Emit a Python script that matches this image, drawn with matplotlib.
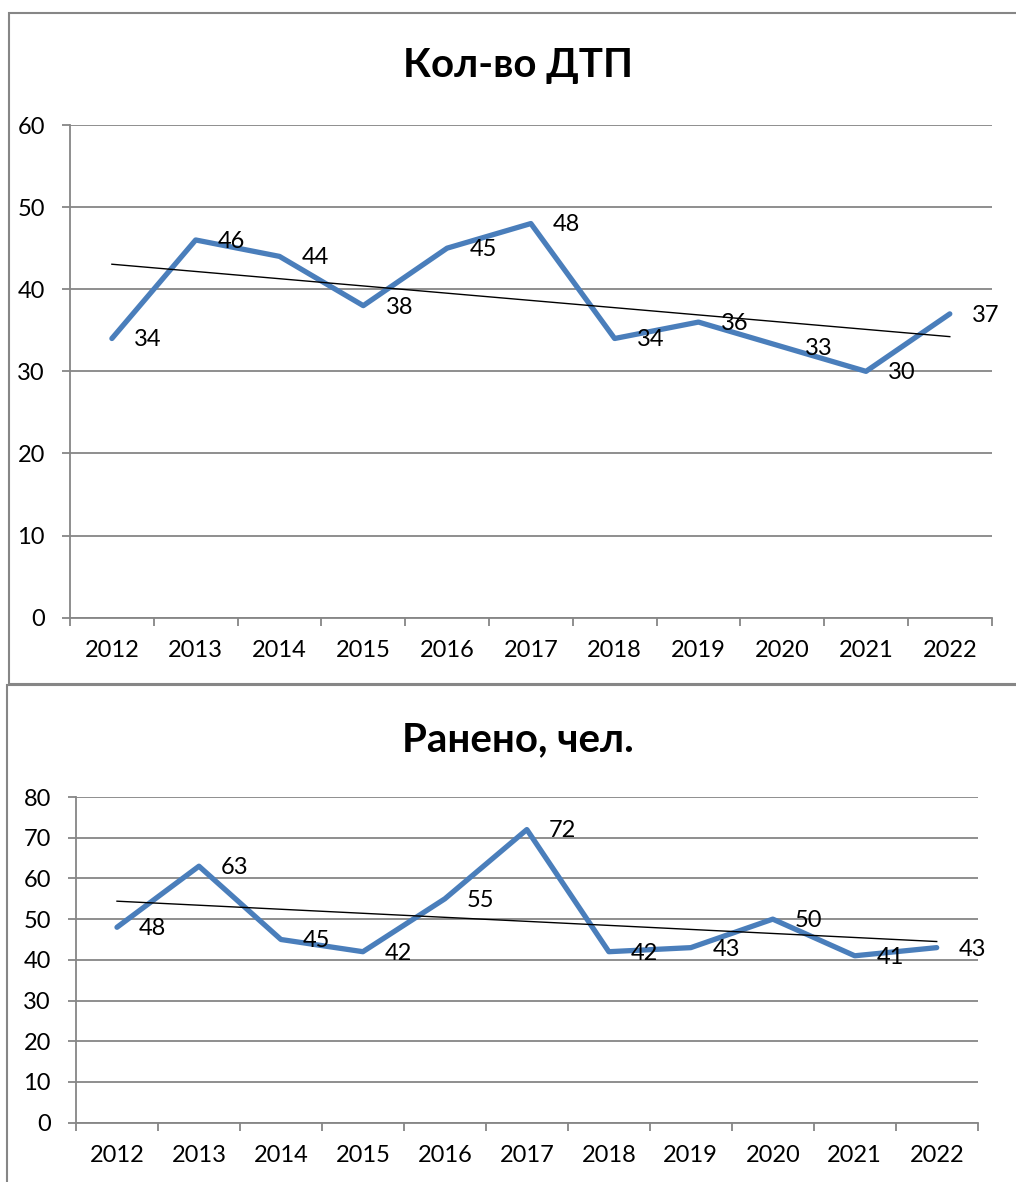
import matplotlib
matplotlib.use('Agg')
import matplotlib.pyplot as plt
from matplotlib.patches import Rectangle
from matplotlib.ticker import MultipleLocator, FixedLocator, NullFormatter
import numpy as np

plt.rcParams['font.family'] = ['Lato', 'DejaVu Sans']

years = ['2012', '2013', '2014', '2015', '2016', '2017', '2018', '2019', '2020', '2021', '2022']
dtp = [34, 46, 44, 38, 45, 48, 34, 36, 33, 30, 37]
injured = [48, 63, 45, 42, 55, 72, 42, 43, 50, 41, 43]

W, H = 1016, 1182
fig = plt.figure(figsize=(W / 100, H / 100), dpi=100)

GRAY = '#868686'
BLUE = '#4a7ebb'


def px_axes(left, top, right, bottom):
    return fig.add_axes([left / W, 1 - bottom / H, (right - left) / W, (bottom - top) / H])


def draw_chart(ax, values, ymax, title, title_y):
    n = len(values)
    x = np.arange(n)
    ax.set_xlim(-0.5, n - 0.5)
    ax.set_ylim(0, ymax)
    ax.yaxis.set_major_locator(MultipleLocator(10))
    ax.grid(axis='y', color=GRAY, linewidth=1.3)
    ax.set_axisbelow(True)
    for s in ['top', 'right']:
        ax.spines[s].set_visible(False)
    for s in ['left', 'bottom']:
        ax.spines[s].set_color(GRAY)
        ax.spines[s].set_linewidth(1.3)
    # ticks at category boundaries, labels at centres
    ax.xaxis.set_major_locator(FixedLocator(np.arange(n + 1) - 0.5))
    ax.xaxis.set_major_formatter(NullFormatter())
    ax.xaxis.set_minor_locator(FixedLocator(x))
    ax.set_xticklabels(years, minor=True)
    ax.tick_params(axis='x', which='major', length=6, width=1.3, color=GRAY)
    ax.tick_params(axis='x', which='minor', length=0, pad=16, labelsize=17)
    ax.tick_params(axis='y', length=6, width=1.3, color=GRAY, pad=12, labelsize=17)

    ax.plot(x, values, color=BLUE, linewidth=3.8, solid_capstyle='round',
            solid_joinstyle='round', zorder=3)
    # linear trend line
    k, b = np.polyfit(x, values, 1)
    ax.plot(x, k * x + b, color='black', linewidth=1.0, zorder=4)
    for xi, v in zip(x, values):
        ax.annotate(str(v), (xi, v), xytext=(16, -1), textcoords='offset points',
                    ha='left', va='center', fontsize=17, zorder=5)
    fig.text(518 / W, 1 - title_y / H, title, ha='center', va='center',
             fontsize=29, fontweight='bold')


ax1 = px_axes(70, 125, 991.7, 617.7)
draw_chart(ax1, dtp, 60, 'Кол-во ДТП', 65)

ax2 = px_axes(76, 797, 977.7, 1122.7)
draw_chart(ax2, injured, 80, 'Ранено, чел.', 740)

# chart frames
fig.patches.append(Rectangle((8.5 / W, 1 - 684 / H), 1.1, (684 - 12.5) / H,
                             transform=fig.transFigure, fill=False,
                             edgecolor=GRAY, linewidth=1.5))
fig.patches.append(Rectangle((7 / W, -0.1), 1.1, (1 - 685 / H) + 0.1,
                             transform=fig.transFigure, fill=False,
                             edgecolor=GRAY, linewidth=1.5))

fig.savefig('out.png', dpi=100)
